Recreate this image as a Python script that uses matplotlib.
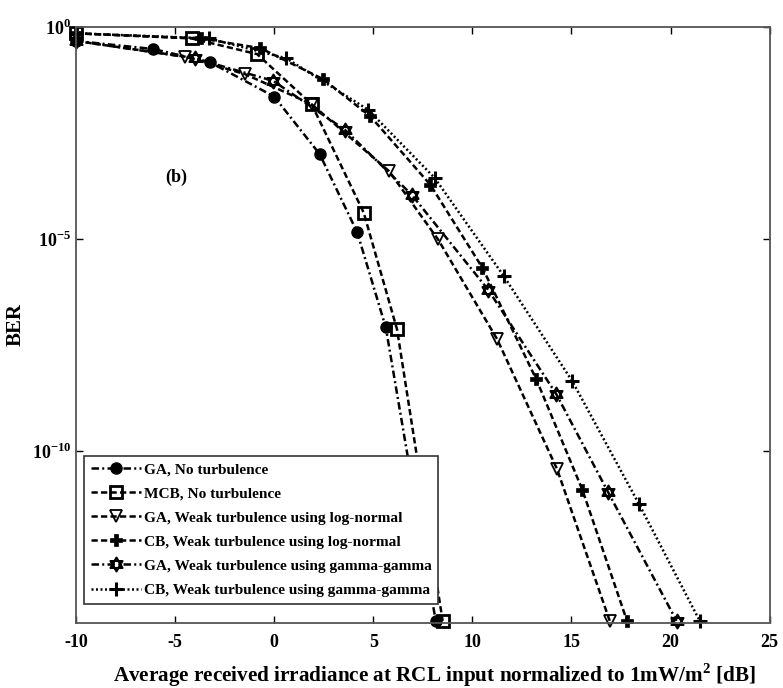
import numpy as np
import matplotlib
matplotlib.use("Agg")
import matplotlib.pyplot as plt
from matplotlib.path import Path

plt.rcParams["font.family"] = ["Liberation Serif", "DejaVu Serif"]
plt.rcParams["font.weight"] = "bold"
plt.rcParams["mathtext.fontset"] = "custom"
plt.rcParams["mathtext.rm"] = "Liberation Serif:bold"
plt.rcParams["mathtext.bf"] = "Liberation Serif:bold"
plt.rcParams["axes.unicode_minus"] = False

# BER curves, x in dB, y as log10(BER)
x_ga_nt = [-10, -6.1, -3.24, 0.0, 2.3, 4.19, 5.63, 8.15]
y_ga_nt = [-0.33, -0.52, -0.83, -1.64, -3.0, -4.84, -7.08, -14.0]

x_mcb_nt = [-10, -4.17, -0.86, 1.89, 4.52, 6.2, 8.5]
y_mcb_nt = [-0.15, -0.27, -0.64, -1.82, -4.38, -7.13, -14.0]

x_ga_ln = [-10, -4.5, -1.48, 1.89, 5.8, 8.27, 11.25, 14.27, 16.93]
y_ga_ln = [-0.33, -0.70, -1.11, -1.82, -3.4, -5.01, -7.36, -10.42, -14.0]

x_cb_ln = [-10, -3.7, -0.69, 2.47, 4.86, 7.88, 10.51, 13.23, 15.55, 17.8]
y_cb_ln = [-0.15, -0.27, -0.50, -1.23, -2.11, -3.72, -5.68, -8.31, -10.91, -14.0]

x_ga_gg = [-10, -4.0, -0.05, 3.56, 6.93, 10.79, 14.24, 16.84, 20.3]
y_ga_gg = [-0.33, -0.74, -1.27, -2.42, -3.95, -6.19, -8.66, -10.96, -14.0]

x_cb_gg = [-10, -3.3, 0.62, 4.74, 8.1, 11.58, 15.04, 18.41, 21.47]
y_cb_gg = [-0.15, -0.27, -0.74, -1.95, -3.56, -5.87, -8.35, -11.25, -14.0]

labels = ["GA, No turbulence",
          "MCB, No turbulence",
          "GA, Weak turbulence using log-normal",
          "CB, Weak turbulence using log-normal",
          "GA, Weak turbulence using gamma-gamma",
          "CB, Weak turbulence using gamma-gamma"]


def hexagram():
    # two overlapping triangles -> six pointed star
    pts = []
    codes = []
    for rot in (90, 270):
        a = np.deg2rad(rot + np.array([0, 120, 240]))
        tri = np.column_stack([np.cos(a), np.sin(a)])
        pts += list(tri) + [tri[0]]
        codes += [Path.MOVETO, Path.LINETO, Path.LINETO, Path.CLOSEPOLY]
    return Path(pts, codes)


dash = (0, (2.5, 1.3))
dashdot = (0, (3, 1.3, 0.8, 1.3))
dot = (0, (0.8, 1.0))

fig = plt.figure(figsize=(7.83, 6.88), dpi=100)
ax = fig.add_axes([0.097, 0.0945, 0.886, 0.8663])

k = dict(color="black", linewidth=1.8, clip_on=False)
ax.plot(x_ga_nt, 10.0 ** np.array(y_ga_nt), linestyle=dashdot, marker="o",
        markersize=8, markerfacecolor="black", label=labels[0], **k)
ax.plot(x_mcb_nt, 10.0 ** np.array(y_mcb_nt), linestyle=dash, marker="s",
        markersize=9, markerfacecolor="none", markeredgewidth=2, label=labels[1], **k)
ax.plot(x_ga_ln, 10.0 ** np.array(y_ga_ln), linestyle=dash, marker="v",
        markersize=9, markerfacecolor="none", markeredgewidth=1.3, label=labels[2], **k)
ax.plot(x_cb_ln, 10.0 ** np.array(y_cb_ln), linestyle=dash, marker="P",
        markersize=9, markerfacecolor="black", markeredgewidth=0.5, label=labels[3], **k)
ax.plot(x_ga_gg, 10.0 ** np.array(y_ga_gg), linestyle=dashdot, marker=hexagram(),
        markersize=10, markerfacecolor="none", markeredgewidth=1.5, label=labels[4], **k)
ax.plot(x_cb_gg, 10.0 ** np.array(y_cb_gg), linestyle=dot, marker="+",
        markersize=10, markeredgewidth=2.2, label=labels[5], **k)

ax.set_yscale("log")
ax.set_xlim(-10, 25)
ax.set_ylim(10 ** -14.05, 1)
ax.set_xticks([-10, -5, 0, 5, 10, 15, 20, 25])
ax.set_yticks([1, 1e-5, 1e-10])
ax.set_yticklabels([r"$10^{0}$", r"$10^{-5}$", r"$10^{-10}$"])
ax.minorticks_off()
ax.tick_params(direction="in", top=True, right=True, length=5, labelsize=13, width=1)
ax.tick_params(axis="x", pad=8)
for s in ax.spines.values():
    s.set_color("#555555")
    s.set_linewidth(1.3)

ax.set_xlabel(r"Average received irradiance at RCL input normalized to 1mW/m$^{2}$ [dB]",
              fontsize=15.2, fontweight="bold")
ax.xaxis.set_label_coords(0.517, -0.064)
ax.set_ylabel("BER", fontsize=15, fontweight="bold", labelpad=4)
ax.text(-5.5, 10 ** -3.65, "(b)", fontsize=13, fontweight="bold")

leg = ax.legend(loc="lower left", bbox_to_anchor=(0.012, 0.032), fontsize=11.1,
                handlelength=3.2, handletextpad=0.2, labelspacing=0.67,
                borderpad=0.45, frameon=True, fancybox=False, framealpha=1,
                borderaxespad=0)
leg.get_frame().set_edgecolor("#333333")
leg.get_frame().set_linewidth(1.2)

plt.savefig("out.png", dpi=100)
